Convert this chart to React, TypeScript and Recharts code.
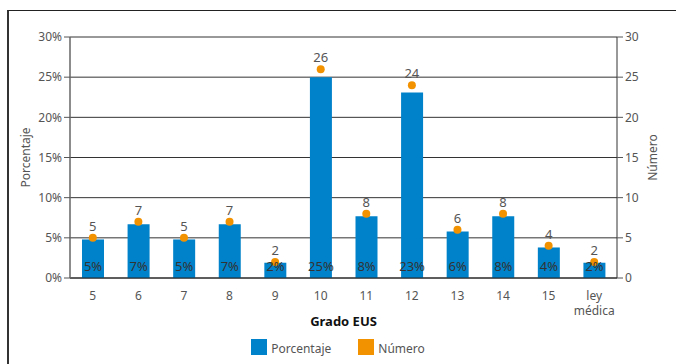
import {
  ComposedChart,
  Bar,
  Line,
  XAxis,
  YAxis,
  CartesianGrid,
  LabelList,
  Legend,
} from "recharts";

const grades = ["5", "6", "7", "8", "9", "10", "11", "12", "13", "14", "15", "ley médica"];
const percentages = [4.8, 6.7, 4.8, 6.7, 1.9, 25.0, 7.7, 23.1, 5.8, 7.7, 3.8, 1.9];
const counts = [5, 7, 5, 7, 2, 26, 8, 24, 6, 8, 4, 2];
const leftTicks = [0, 5, 10, 15, 20, 25, 30];
const rightTicks = [0, 5, 10, 15, 20, 25, 30];

const BLUE = "#0082ca";
const ORANGE = "#f39200";
const FONT = "'Noto Sans', sans-serif";

const data = grades.map((grade, i) => ({
  grade,
  pct: percentages[i],
  count: counts[i],
}));

// category labels, long ones broken onto two lines
function GradeTick({ x, y, payload }: any) {
  const lines = String(payload.value).split(" ");
  return (
    <text x={x} y={y} textAnchor="middle" fill="#555" fontSize={12} fontFamily={FONT}>
      {lines.map((l, i) => (
        <tspan key={i} x={x} dy={i === 0 ? 14 : 15}>
          {l}
        </tspan>
      ))}
    </text>
  );
}

// percentage shown near the foot of each bar
function PctLabel({ x, y, width, height, value }: any) {
  return (
    <text
      x={x + width / 2}
      y={y + height - 7}
      textAnchor="middle"
      fill="#333"
      fontSize={13}
      fontFamily={FONT}
    >
      {Math.round(value)}%
    </text>
  );
}

function LegendBox() {
  const items = [
    { label: "Porcentaje", color: BLUE },
    { label: "Número", color: ORANGE },
  ];
  return (
    <div style={{ display: "flex", justifyContent: "center", gap: 27, fontFamily: FONT }}>
      {items.map((it) => (
        <div key={it.label} style={{ display: "flex", alignItems: "flex-end", gap: 4 }}>
          <span style={{ width: 16, height: 16, background: it.color, display: "inline-block" }} />
          <span style={{ fontSize: 12, color: "#555", lineHeight: "13px" }}>{it.label}</span>
        </div>
      ))}
    </div>
  );
}

export default function App() {
  return (
    <div style={{ position: "absolute", left: 0, top: 0, width: 676, height: 364, background: "#fff" }}>
      <div
        style={{
          position: "absolute",
          left: 7,
          top: 10,
          width: 669,
          height: 354,
          borderTop: "1px solid #222",
          borderLeft: "2px solid #333",
        }}
      />
      <ComposedChart
        width={676}
        height={364}
        data={data}
        margin={{ top: 37, right: 0, bottom: 0, left: 0 }}
        style={{ fontFamily: FONT }}
      >
        <CartesianGrid yAxisId="left" vertical={false} stroke="#333" />
        <XAxis
          dataKey="grade"
          height={86}
          tickLine={false}
          axisLine={{ stroke: "#222" }}
          tick={<GradeTick />}
          interval={0}
          label={{
            value: "Grado EUS",
            position: "insideBottom",
            offset: 38,
            fill: "#111",
            fontSize: 13,
            fontWeight: 700,
          }}
        />
        <YAxis
          yAxisId="left"
          width={70}
          domain={[0, 30]}
          ticks={leftTicks}
          tickFormatter={(v) => `${v}%`}
          tick={{ fill: "#555", fontSize: 12 }}
          axisLine={{ stroke: "#666", strokeWidth: 1.5 }}
          tickLine={{ stroke: "#555" }}
          label={{
            value: "Porcentaje",
            angle: -90,
            position: "insideLeft",
            offset: 26,
            fill: "#555",
            fontSize: 12,
            style: { textAnchor: "middle" },
          }}
        />
        <YAxis
          yAxisId="right"
          orientation="right"
          width={59}
          domain={[0, 30]}
          ticks={rightTicks}
          tick={{ fill: "#555", fontSize: 12 }}
          axisLine={{ stroke: "#333" }}
          tickLine={{ stroke: "#555" }}
          label={{
            value: "Número",
            angle: -90,
            position: "insideRight",
            offset: 23,
            fill: "#555",
            fontSize: 12,
            style: { textAnchor: "middle" },
          }}
        />
        <Bar yAxisId="left" dataKey="pct" fill={BLUE} barSize={22} isAnimationActive={false}>
          <LabelList dataKey="pct" content={<PctLabel />} />
        </Bar>
        <Line
          yAxisId="right"
          dataKey="count"
          stroke="none"
          dot={{ r: 4, fill: ORANGE, stroke: "none" }}
          activeDot={false}
          isAnimationActive={false}
        >
          <LabelList dataKey="count" position="top" offset={7} fill="#555" fontSize={13} />
        </Line>
        <Legend
          verticalAlign="middle"
          align="center"
          content={<LegendBox />}
          wrapperStyle={{ top: 339, left: 0, width: 676 }}
        />
      </ComposedChart>
    </div>
  );
}
